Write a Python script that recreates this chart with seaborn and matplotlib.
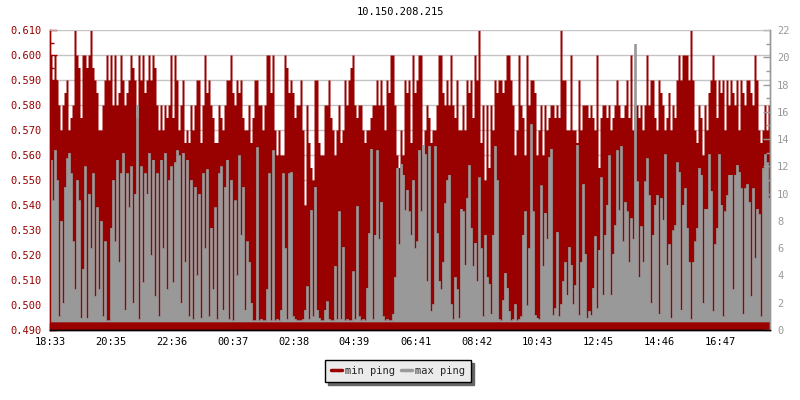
import numpy as np
import matplotlib
matplotlib.use("Agg")
import matplotlib.pyplot as plt
from matplotlib.lines import Line2D
from matplotlib.ticker import MultipleLocator, FormatStrFormatter
import seaborn as sns

# chart texts
title = "10.150.208.215"
series_names = ["min ping", "max ping"]
tick_labels = ["18:33", "20:35", "22:36", "00:37", "02:38", "04:39",
               "06:41", "08:42", "10:43", "12:45", "14:46", "16:47"]
span_minutes = 1433  # width of the time axis, starting at 18:33

# min ping in microseconds, one sample every ~4 minutes
min_ping_us = [
    600, 590, 600, 590, 580, 570, 580, 585, 590, 570, 575, 580, 610, 600, 595, 575, 600, 600, 595, 600,
    610, 595, 590, 585, 570, 570, 580, 590, 600, 590, 600, 580, 600, 580, 585, 600, 590, 580, 585, 590,
    600, 595, 590, 575, 600, 590, 600, 585, 590, 600, 590, 600, 595, 580, 570, 580, 570, 580, 575, 580,
    600, 575, 600, 590, 570, 580, 590, 565, 570, 565, 580, 570, 580, 590, 590, 565, 580, 600, 585, 590,
    580, 575, 565, 565, 580, 575, 570, 580, 590, 590, 600, 585, 580, 590, 585, 590, 575, 570, 570, 580,
    565, 575, 590, 590, 580, 580, 570, 580, 600, 600, 585, 600, 570, 560, 570, 560, 560, 600, 595, 585,
    590, 585, 575, 580, 580, 590, 570, 540, 580, 565, 555, 550, 590, 590, 565, 560, 560, 580, 580, 590,
    575, 570, 560, 570, 580, 565, 570, 590, 580, 590, 595, 600, 580, 575, 580, 580, 570, 565, 570, 570,
    575, 580, 580, 590, 580, 590, 580, 570, 590, 585, 600, 600, 580, 560, 555, 570, 560, 590, 585, 590,
    565, 600, 585, 590, 600, 600, 560, 570, 580, 575, 565, 570, 570, 580, 600, 600, 585, 580, 590, 580,
    600, 580, 575, 590, 570, 570, 580, 570, 590, 585, 590, 575, 600, 590, 610, 565, 580, 550, 580, 555,
    580, 570, 590, 585, 590, 590, 585, 590, 600, 600, 590, 580, 560, 570, 600, 580, 575, 560, 600, 580,
    590, 590, 585, 560, 570, 580, 560, 580, 570, 575, 580, 580, 575, 580, 575, 610, 590, 590, 570, 570,
    600, 570, 570, 565, 590, 570, 580, 580, 580, 575, 580, 575, 570, 600, 555, 575, 580, 580, 575, 580,
    570, 575, 580, 590, 580, 575, 575, 580, 590, 575, 600, 570, 580, 580, 575, 580, 570, 580, 600, 580,
    590, 590, 575, 570, 590, 585, 580, 570, 575, 585, 570, 580, 575, 590, 600, 590, 600, 600, 600, 590,
    610, 590, 570, 565, 580, 575, 560, 580, 570, 585, 590, 600, 590, 575, 590, 585, 590, 570, 590, 580,
    590, 585, 580, 590, 570, 590, 585, 580, 590, 590, 585, 580, 600, 590, 570, 565, 570, 580, 570, 580,
]

# max ping in milliseconds, same samples
max_ping_ms = [
    12.5, 9.5, 13.2, 11.0, 1.0, 8.0, 2.0, 10.5, 12.6, 13.0, 11.5, 6.5, 3.0, 11.0, 9.5, 0.9, 4.5, 12.0, 0.9, 10.0,
    6.0, 11.5, 2.5, 9.0, 3.0, 8.0, 1.0, 6.5, 0.7, 0.7, 7.5, 11.0, 6.5, 12.5, 5.0, 11.5, 13.0, 1.5, 11.5, 9.0,
    12.0, 2.0, 10.0, 16.5, 0.8, 12.0, 3.5, 11.5, 10.0, 13.0, 5.5, 12.5, 2.5, 11.5, 1.0, 12.5, 6.0, 13.0, 3.0, 11.0,
    12.0, 3.5, 12.3, 13.2, 12.8, 2.0, 13.0, 5.0, 12.5, 1.0, 11.0, 0.8, 10.5, 4.0, 10.0, 0.9, 11.5, 6.0, 11.8, 1.0,
    7.5, 3.0, 9.0, 0.8, 11.5, 12.0, 1.5, 10.5, 12.5, 0.8, 11.0, 0.7, 9.5, 4.0, 12.8, 7.0, 10.5, 1.5, 6.5, 5.0,
    2.0, 0.7, 0.7, 13.4, 0.7, 0.8, 0.7, 0.7, 3.0, 11.5, 0.7, 13.2, 0.7, 0.8, 0.7, 1.5, 11.5, 6.0, 0.8, 11.5,
    11.6, 1.0, 0.8, 0.7, 0.7, 0.7, 0.8, 1.5, 3.2, 0.8, 8.8, 1.0, 10.5, 1.5, 0.9, 0.7, 0.7, 1.5, 2.1, 0.8,
    0.7, 0.7, 4.7, 0.8, 8.7, 0.8, 6.1, 0.7, 0.8, 0.7, 0.7, 4.3, 0.8, 9.1, 1.0, 0.7, 0.8, 0.7, 3.1, 7.1,
    13.3, 0.8, 7.0, 13.2, 6.7, 9.4, 1.0, 0.7, 0.8, 0.7, 0.7, 1.2, 3.9, 11.9, 6.3, 12.2, 11.4, 8.8, 10.3, 8.7,
    7.0, 11.0, 6.0, 6.5, 13.2, 8.7, 13.6, 12.9, 3.6, 13.5, 1.4, 1.9, 13.5, 7.1, 3.6, 3.0, 5.0, 9.3, 11.0, 11.4,
    1.9, 0.8, 3.9, 3.0, 0.9, 8.9, 8.7, 4.8, 9.7, 12.1, 7.5, 4.7, 6.4, 3.6, 11.2, 6.0, 1.0, 7.0, 3.9, 3.4,
    1.2, 7.0, 13.5, 11.0, 0.8, 0.7, 2.2, 4.2, 3.1, 1.4, 0.7, 0.8, 1.9, 0.7, 0.8, 1.0, 7.0, 8.7, 1.8, 6.0,
    15.1, 8.7, 1.1, 0.9, 0.8, 10.6, 4.7, 8.6, 6.7, 12.7, 13.3, 1.1, 1.6, 7.2, 1.0, 1.9, 3.6, 5.0, 2.6, 6.1,
    4.8, 1.9, 3.3, 13.6, 1.1, 5.0, 10.7, 5.6, 0.9, 1.4, 1.1, 3.1, 6.9, 1.6, 5.9, 11.2, 2.6, 7.0, 9.2, 12.8,
    2.6, 5.6, 7.7, 13.2, 8.8, 13.5, 6.5, 9.4, 8.7, 5.0, 8.2, 6.7, 21.0, 10.9, 3.9, 7.6, 5.0, 10.9, 12.6, 9.9,
    2.0, 7.0, 9.2, 9.9, 1.2, 9.7, 8.1, 12.9, 4.8, 6.3, 0.9, 7.3, 7.7, 12.3, 11.6, 1.5, 9.2, 10.4, 7.5, 5.0,
    0.8, 5.0, 6.5, 7.5, 11.9, 11.4, 2.0, 8.9, 8.9, 12.9, 10.2, 1.4, 6.3, 7.5, 12.9, 9.2, 1.0, 8.7, 9.9, 11.4,
    11.4, 3.0, 11.4, 12.1, 11.6, 10.4, 1.2, 10.4, 10.7, 9.4, 2.5, 10.4, 5.3, 8.9, 8.5, 1.0, 11.9, 12.9, 12.3, 9.7,
]

RED = "#990000"
GREY = "#999999"
GRID = "#c4c4c4"

sns.set_theme(style="white")
plt.rcParams["font.family"] = ["DejaVu Sans Mono", "DejaVu Sans"]

min_ping = np.array(min_ping_us) / 1000.0
max_ping = np.array(max_ping_ms)
n = len(min_ping)
t = np.arange(n + 1) * span_minutes / n
y_min = np.append(min_ping, min_ping[-1])
y_max = np.append(max_ping, max_ping[-1])

# tick positions in minutes after the first label
def minutes_after_start(label):
    h, m = map(int, label.split(":"))
    h0, m0 = map(int, tick_labels[0].split(":"))
    return ((h * 60 + m) - (h0 * 60 + m0)) % 1440

tick_pos = [minutes_after_start(l) for l in tick_labels]

fig = plt.figure(figsize=(8, 4), dpi=100)
ax = fig.add_axes([50 / 800, 70 / 400, 720 / 800, 300 / 400])
ax2 = ax.twinx()

# min ping: filled steps on the left axis
ax.fill_between(t, 0.49, y_min, step="post", color=RED, lw=0)

# max ping: filled steps on the right axis, with its step outline
ax2.fill_between(t, 0.6, y_max, step="post", color=GREY, lw=0)
sns.lineplot(x=t, y=y_max, ax=ax2, color=GREY, lw=0.5, drawstyle="steps-post", estimator=None)

ax.set_xlim(0, span_minutes)
ax.set_ylim(0.49, 0.61)
ax2.set_ylim(0, 22)

ax.set_xticks(tick_pos)
ax.set_xticklabels(tick_labels)
ax.yaxis.set_major_locator(MultipleLocator(0.01))
ax.yaxis.set_minor_locator(MultipleLocator(0.005))
ax.yaxis.set_major_formatter(FormatStrFormatter("%.3f"))
ax2.yaxis.set_major_locator(MultipleLocator(2))
ax2.yaxis.set_minor_locator(MultipleLocator(1))

ax.tick_params(axis="x", direction="in", length=5, width=1, color="black",
               labelcolor="black", labelsize=7.5, pad=5, bottom=True, top=False)
ax.tick_params(axis="y", which="major", direction="in", length=5, width=1,
               color=RED, labelcolor=RED, labelsize=7.5, pad=6, left=True, right=False)
ax.tick_params(axis="y", which="minor", direction="in", length=3, width=1, color=RED,
               left=True, right=False)
ax2.tick_params(axis="y", which="major", direction="in", length=5, width=1,
                color=GREY, labelcolor=GREY, labelsize=7.5, pad=5, right=True, left=False)
ax2.tick_params(axis="y", which="minor", direction="in", length=3, width=1, color=GREY,
                right=True, left=False)

ax.yaxis.grid(True, which="major", color=GRID, lw=1)
ax.xaxis.grid(False)
ax.set_axisbelow(True)

for a in (ax, ax2):
    a.spines["left"].set_color(RED)
    a.spines["bottom"].set_color("black")
    a.spines["right"].set_color(GREY)
    for s in a.spines.values():
        s.set_linewidth(1)
    a.spines["top"].set_visible(False)
    a.set_xlabel("")
    a.set_ylabel("")

# top grid line sits on the frame edge; redraw it above the fills
ax2.axhline(ax2.get_ylim()[1], color=GRID, lw=1.2, zorder=4)

fig.text(0.5, 1 - 12 / 400, title, ha="center", va="center", fontsize=7.5, color="black")

handles = [Line2D([], [], color=RED, lw=2.5), Line2D([], [], color=GREY, lw=2.5)]
leg = fig.legend(handles, series_names, loc="center", bbox_to_anchor=(398 / 800, 1 - 371 / 400),
                 ncol=2, frameon=True, fancybox=False, shadow={"color": "#666666", "alpha": 1},
                 edgecolor="black", facecolor="#ebebeb", framealpha=1, fontsize=7.5,
                 handlelength=1.1, handletextpad=0.3, columnspacing=0.5, borderpad=0.55)
leg.get_frame().set_linewidth(1)

fig.savefig("out.png", dpi=100, facecolor="white")
